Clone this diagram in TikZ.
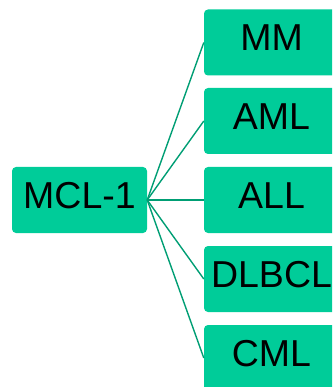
\documentclass[tikz,border=0pt]{standalone}
\usepackage{fontspec}
\setmainfont{Liberation Sans}
\definecolor{boxgreen}{RGB}{0,204,153}
\definecolor{linkgreen}{RGB}{0,158,116}
\begin{document}
\begin{tikzpicture}[x=1pt,y=-1pt,
  gbox/.style={draw=none,fill=boxgreen,rounded corners=4pt,minimum width=135pt,minimum height=66pt,
    inner sep=0pt,text height=27pt,text depth=10pt,font=\fontsize{37.5}{40}\selectfont,text=black},
  link/.style={draw=linkgreen,line width=1.4pt}]
\useasboundingbox (0,0) rectangle (332,387);
\clip (0,0) rectangle (332,387);
\node[gbox] (mcl) at (79.5,200) {MCL-1};
\node[gbox] (mm) at (271.5,42.5) {MM};
\node[gbox] (aml) at (271.5,121) {AML};
\node[gbox] (all) at (271.5,200) {ALL};
\node[gbox] (dlbcl) at (271.5,279) {DLBCL};
\node[gbox] (cml) at (271.5,358) {CML};
\foreach \t in {mm,aml,all,dlbcl,cml}
  \draw[link] (mcl.east) -- (\t.west);
\end{tikzpicture}
\end{document}
